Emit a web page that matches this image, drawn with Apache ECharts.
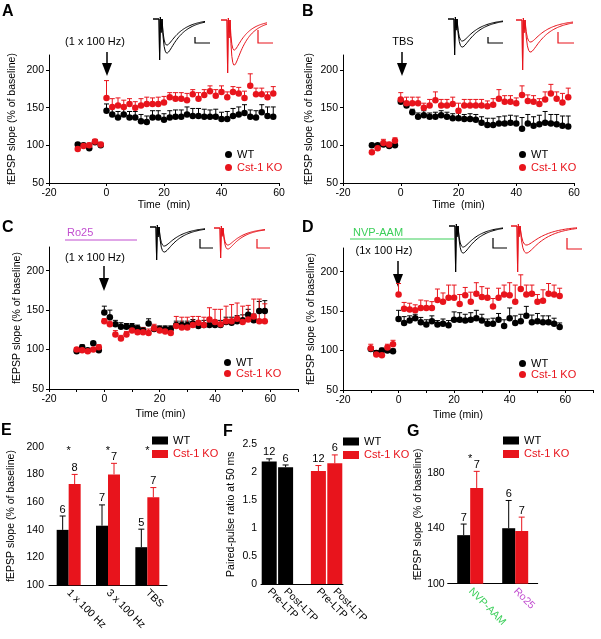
<!DOCTYPE html>
<html>
<head>
<meta charset="utf-8">
<script src="https://cdn.jsdelivr.net/npm/echarts@6/dist/echarts.min.js"></script>
<style>
  html, body { margin: 0; padding: 0; background: #fff; }
  #main { width: 601px; height: 639px; }
</style>
</head>
<body>
<div id="main"></div>
<script>
const RED = '#e8141c'
const BLACK = '#000'
const FONT = 'Liberation Sans, Arial, sans-serif'

// time points (min)
const baseTimes = [-10, -8, -6, -4, -2]
const postTimes = [0, 2, 4, 6, 8, 10, 12, 14, 16, 18, 20, 22, 24, 26, 28, 30, 32, 34, 36, 38, 40, 42, 44, 46, 48, 50, 52, 54, 56, 58]

// A: 1 x 100 Hz
const aWtBase = [101, 100, 96, 104, 100]
const aWtBaseErr = [2, 2, 2, 3, 2]
const aKoBase = [95, 99, 100, 105, 101]
const aKoBaseErr = [3, 2, 3, 3, 3]
const aWt = [146, 141, 137, 141, 137, 137, 132, 131, 137, 137, 134, 137, 138, 138, 141, 139, 139, 138, 138, 138, 135, 135, 139, 141, 143, 138, 137, 144, 139, 138]
const aWtErr = [9, 8, 8, 8, 8, 8, 9, 8, 9, 9, 8, 9, 9, 9, 10, 10, 10, 10, 9, 10, 9, 10, 10, 10, 11, 9, 9, 10, 12, 13]
const aKo = [163, 151, 153, 151, 155, 150, 153, 155, 155, 155, 157, 164, 162, 162, 160, 168, 162, 167, 172, 166, 171, 164, 171, 169, 163, 179, 168, 168, 164, 169]
const aKoErr = [23, 11, 10, 9, 7, 8, 9, 9, 8, 9, 8, 6, 8, 8, 9, 6, 8, 7, 7, 8, 8, 7, 7, 8, 9, 16, 8, 8, 7, 9]

// B: TBS
const bWtBase = [100, 100, 101, 99, 100]
const bWtBaseErr = [2, 2, 2, 2, 2]
const bKoBase = [91, 96, 103, 101, 106]
const bKoBaseErr = [2, 3, 5, 3, 4]
const bWt = [158, 153, 144, 138, 140, 138, 138, 140, 138, 136, 136, 135, 135, 134, 130, 127, 127, 129, 129, 130, 129, 122, 129, 126, 128, 130, 129, 128, 126, 125]
const bWtErr = [4, 4, 4, 5, 6, 5, 6, 6, 6, 6, 7, 6, 7, 7, 8, 9, 9, 9, 10, 10, 10, 15, 12, 12, 12, 15, 12, 13, 13, 14]
const bKo = [161, 156, 156, 156, 150, 153, 160, 153, 153, 155, 146, 153, 153, 153, 153, 152, 154, 162, 158, 158, 156, 167, 159, 158, 155, 161, 169, 162, 157, 164]
const bKoErr = [9, 8, 8, 8, 6, 8, 11, 8, 8, 9, 10, 8, 8, 8, 8, 7, 8, 12, 8, 8, 7, 12, 8, 8, 7, 10, 12, 9, 12, 12]

// C: Ro25
const cWtBase = [98, 103, 99, 108, 99]
const cWtBaseErr = [2, 3, 2, 2, 2]
const cKoBase = [100, 99, 98, 100, 103]
const cKoBaseErr = [2, 2, 2, 2, 3]
const cWt = [147, 141, 132, 129, 129, 129, 127, 124, 133, 126, 126, 126, 126, 131, 131, 131, 133, 130, 131, 131, 131, 131, 135, 134, 136, 137, 144, 137, 149, 149]
const cWtErr = [8, 9, 5, 5, 4, 4, 4, 4, 6, 4, 4, 4, 4, 5, 5, 5, 5, 5, 6, 6, 6, 6, 6, 7, 7, 7, 7, 8, 12, 13]
const cKo = [136, 132, 119, 114, 119, 124, 122, 122, 121, 127, 124, 123, 121, 130, 128, 128, 131, 134, 131, 138, 135, 132, 136, 136, 139, 135, 138, 142, 136, 136]
const cKoErr = [3, 4, 5, 4, 4, 4, 4, 6, 5, 5, 5, 5, 5, 12, 13, 13, 11, 8, 10, 15, 16, 19, 19, 21, 20, 20, 18, 22, 28, 22]

// D: NVP-AAM
const dWtBase = [102, 97, 100, 100, 99]
const dWtBaseErr = [3, 3, 3, 3, 3]
const dKoBase = [103, 95, 94, 104, 108]
const dKoBaseErr = [5, 2, 2, 4, 5]
const dWt = [140, 135, 138, 141, 136, 133, 137, 133, 134, 132, 139, 139, 138, 139, 141, 138, 134, 134, 139, 131, 141, 135, 137, 144, 136, 137, 136, 136, 134, 130]
const dWtErr = [11, 8, 6, 5, 6, 6, 7, 5, 6, 6, 10, 9, 8, 9, 10, 8, 6, 7, 8, 8, 13, 9, 9, 12, 9, 10, 8, 8, 7, 5]
const dKo = [171, 153, 152, 151, 154, 154, 154, 164, 162, 167, 167, 159, 170, 162, 172, 168, 167, 156, 167, 171, 170, 162, 178, 171, 172, 162, 163, 172, 171, 169]
const dKoErr = [14, 8, 8, 7, 10, 9, 8, 14, 11, 16, 16, 12, 10, 12, 14, 13, 12, 10, 12, 12, 16, 21, 18, 12, 11, 9, 14, 13, 12, 10]

// E: summary
const eCats = ['1 x 100 Hz', '3 x 100 Hz', 'TBS']
const eWt = [140, 143, 127.5]
const eWtErr = [10, 15, 13]
const eWtN = [6, 7, 5]
const eKo = [173, 180, 163.5]
const eKoErr = [7, 8, 7]
const eKoN = [8, 7, 7]
const eStarIdx = [0, 1, 2]
const eStarVal = [200, 200, 200]

// F: paired-pulse ratio
const fLabels = ['Pre-LTP', 'Post-LTP', '', 'Pre-LTP', 'Post-LTP']
const fWtIdx = [0, 1]
const fWt = [2.19, 2.09]
const fWtErr = [0.05, 0.04]
const fWtN = [12, 6]
const fKoIdx = [3, 4]
const fKo = [2.02, 2.16]
const fKoErr = [0.1, 0.15]
const fKoN = [12, 6]

// G: blockers
const gCats = ['NVP-AAM', 'Ro25']
const gCatColors = ['#3ccf5a', '#c24fd0']
const gWt = [135, 140]
const gWtErr = [8, 20]
const gWtN = [7, 6]
const gKo = [169, 138]
const gKoErr = [12, 10]
const gKoN = [7, 7]
const gStarIdx = [0]
const gStarVal = [193]

const chart = echarts.init(document.getElementById('main'))

function pairs(xs, ys) { return xs.map((x, i) => [x, ys[i]]) }

function ptErrSeries(gi, xs, ys, errs, color) {
  return {
    type: 'custom',
    name: 'err',
    xAxisIndex: gi,
    yAxisIndex: gi,
    data: xs.map((x, i) => [x, ys[i], errs[i]]),
    renderItem: (params, api) => {
      const p = api.coord([api.value(0), api.value(1)])
      const q = api.coord([api.value(0), api.value(1) + api.value(2)])
      const st = { stroke: color, lineWidth: 1 }
      return {
        type: 'group',
        children: [
          { type: 'line', shape: { x1: p[0], y1: p[1], x2: q[0], y2: q[1] }, style: st },
          { type: 'line', shape: { x1: q[0] - 2.5, y1: q[1], x2: q[0] + 2.5, y2: q[1] }, style: st }
        ]
      }
    }
  }
}

function ptSeries(gi, name, xs, ys, color) {
  return {
    type: 'scatter',
    name: name,
    xAxisIndex: gi,
    yAxisIndex: gi,
    symbolSize: 6.5,
    itemStyle: { color: color, opacity: 1 },
    data: pairs(xs, ys)
  }
}

function linePanel(gi, wtB, wtBE, koB, koBE, wt, wtE, ko, koE) {
  const xs = baseTimes.concat(postTimes)
  return [
    ptErrSeries(gi, xs, wtB.concat(wt), wtBE.concat(wtE), BLACK),
    ptSeries(gi, 'WT', xs, wtB.concat(wt), BLACK),
    ptErrSeries(gi, xs, koB.concat(ko), koBE.concat(koE), RED),
    ptSeries(gi, 'Cst-1 KO', xs, koB.concat(ko), RED)
  ]
}

function barErrSeries(gi, idx, vals, errs, ns, dx, color) {
  return {
    type: 'custom',
    name: 'err',
    xAxisIndex: gi,
    yAxisIndex: gi,
    z: 5,
    data: idx.map((c, i) => [c, vals[i], errs[i], ns[i]]),
    renderItem: (params, api) => {
      const p = api.coord([api.value(0), api.value(1)])
      const q = api.coord([api.value(0), api.value(1) + api.value(2)])
      const x = p[0] + dx
      const st = { stroke: color, lineWidth: 1 }
      return {
        type: 'group',
        children: [
          { type: 'line', shape: { x1: x, y1: p[1], x2: x, y2: q[1] }, style: st },
          { type: 'line', shape: { x1: x - 3, y1: q[1], x2: x + 3, y2: q[1] }, style: st },
          { type: 'text', style: { text: String(api.value(3)), x: x, y: q[1] - 1, align: 'center', verticalAlign: 'bottom', font: '11px ' + FONT, fill: '#000' } }
        ]
      }
    }
  }
}

function starSeries(gi, idx, vals) {
  return {
    type: 'custom',
    name: 'star',
    xAxisIndex: gi,
    yAxisIndex: gi,
    data: idx.map((c, i) => [c, vals[i]]),
    renderItem: (params, api) => {
      const p = api.coord([api.value(0), api.value(1)])
      return { type: 'text', style: { text: '*', x: p[0], y: p[1] + 4, align: 'center', verticalAlign: 'middle', font: '11px ' + FONT, fill: '#000' } }
    }
  }
}

function barSeries(gi, name, idx, vals, width, gap, color) {
  return {
    type: 'bar',
    name: name,
    xAxisIndex: gi,
    yAxisIndex: gi,
    barWidth: width,
    barGap: gap,
    itemStyle: { color: color },
    data: pairs(idx, vals)
  }
}

const axisLine = { onZero: false, lineStyle: { color: '#000', width: 1 } }
const tick = { length: 3, lineStyle: { color: '#000' } }
const lbl = { color: '#000', fontSize: 10.5, fontFamily: FONT }

function timeAxis(gi, max, nameGap, namePad) {
  const ax = {
    type: 'value', gridIndex: gi, min: -20, max: max, interval: max === 60 ? 20 : 10,
    axisLine: axisLine, axisTick: tick, splitLine: { show: false },
    axisLabel: Object.assign({ margin: 5 }, lbl),
    name: gi < 2 ? 'Time  (min)' : 'Time (min)', nameLocation: 'middle', nameGap: nameGap,
    nameTextStyle: { color: '#000', fontSize: 10.5, fontFamily: FONT, padding: namePad }
  }
  if (max !== 60) ax.axisLabel.customValues = [-20, 0, 20, 40, 60]
  return ax
}

function slopeAxis(gi, max, nameGap) {
  return {
    type: 'value', gridIndex: gi, min: 50, max: max,
    axisLine: axisLine, splitLine: { show: false },
    axisTick: Object.assign({ customValues: [50, 100, 150, 200] }, tick),
    axisLabel: Object.assign({ margin: 5, customValues: [50, 100, 150, 200] }, lbl),
    name: 'fEPSP slope (% of baseline)', nameLocation: 'middle', nameGap: nameGap,
    nameTextStyle: { color: '#000', fontSize: 10.5, fontFamily: FONT }
  }
}

function catAxis(gi, data, fmt, colorFn) {
  const label = Object.assign({ rotate: -45, margin: 6, interval: 0 }, lbl)
  if (fmt) label.formatter = fmt
  if (colorFn) label.color = colorFn
  return {
    type: 'category', gridIndex: gi, data: data,
    axisLine: axisLine, axisTick: { show: false }, axisLabel: label
  }
}

function legend(left, top, icon, w, h, gap) {
  return {
    left: left, top: top, orient: 'vertical', padding: 0, itemGap: gap,
    itemWidth: w, itemHeight: h, selectedMode: false,
    textStyle: { fontSize: 11, fontFamily: FONT },
    data: [
      { name: 'WT', icon: icon, textStyle: { color: BLACK } },
      { name: 'Cst-1 KO', icon: icon, textStyle: { color: RED } }
    ]
  }
}

// ---- decorations: arrows, drug bars, inset traces, panel letters ----
function txt(x, y, s, opt) {
  return { type: 'text', x: x, y: y, silent: true, style: Object.assign({ text: s, font: '11px ' + FONT, fill: '#000', align: 'center', verticalAlign: 'middle' }, opt || {}) }
}
function arrow(x, y1, y2, y3) {
  return [
    { type: 'line', shape: { x1: x, y1: y1, x2: x, y2: y2 + 1 }, style: { stroke: '#000', lineWidth: 1.5 } },
    { type: 'polygon', shape: { points: [[x - 5, y2], [x + 5, y2], [x, y3]] }, style: { fill: '#000' } }
  ]
}
function hline(x1, x2, y, color) {
  return { type: 'line', shape: { x1: x1, y1: y, x2: x2, y2: y }, style: { stroke: color, lineWidth: 1.2 } }
}
function scaleBar(x, yTop, yBot, len, color) {
  return { type: 'polyline', shape: { points: [[x, yTop], [x, yBot], [x + len, yBot]] }, style: { stroke: color, fill: null, lineWidth: 1.2 } }
}
function trace(x0, y0, w, art, depth, color) {
  const pts = [[x0 - 6, y0], [x0, y0], [x0 + 0.6, y0 + art], [x0 + 1.4, y0 - 2], [x0 + 2.2, y0 + depth * 0.4]]
  let gmax = 0
  for (let i = 0; i <= 40; i++) {
    const s = i / 40
    gmax = Math.max(gmax, Math.exp(-s / 0.35) - Math.exp(-s / 0.05))
  }
  for (let i = 0; i <= 40; i++) {
    const s = i / 40
    const g = (Math.exp(-s / 0.35) - Math.exp(-s / 0.05)) / gmax
    pts.push([x0 + 3 + s * (w - 3), y0 + depth * g])
  }
  return { type: 'polyline', shape: { points: pts }, style: { stroke: color, fill: null, lineWidth: 1 } }
}
const insets = [
  [159, 19, 46, 41, [26, 34], BLACK], [227, 20, 40, 53, [30, 45], RED],
  [454, 19, 49, 36, [22, 28], BLACK], [522, 20, 51, 50, [22, 32], RED],
  [156, 227, 49, 33, [19, 25], BLACK], [220, 228, 45, 30, [17, 21], RED],
  [455, 226, 48, 46, [21, 27], BLACK], [517, 226, 60, 46, [19, 27], RED]
]
const bars = [
  [195, 37, 43, 15, BLACK], [258, 30, 43, 15, RED],
  [488, 37, 43, 15, BLACK], [558, 32, 43, 16, RED],
  [200, 239, 248, 13, BLACK], [257, 239, 248, 13, RED],
  [493, 238, 248, 14, BLACK], [567, 238, 249, 15, RED]
]
const graphics = []
insets.forEach(t => t[4].forEach(d => graphics.push(trace(t[0], t[1], t[2], t[3], d, t[5]))))
bars.forEach(b => graphics.push(scaleBar(b[0], b[1], b[2], b[3], b[4])))
graphics.push(...arrow(107, 52, 63, 76), ...arrow(402, 52, 63, 76), ...arrow(104, 266, 278, 291), ...arrow(398, 261, 274, 287))
graphics.push(
  txt(95, 42, '(1 x 100 Hz)'), txt(403, 42, 'TBS'),
  txt(67, 233, 'Ro25', { fill: '#c24fd0', align: 'left' }), hline(65, 137, 240, '#c24fd0'),
  txt(95, 258, '(1 x 100 Hz)'),
  txt(353, 233, 'NVP-AAM', { fill: '#3ccf5a', align: 'left' }), hline(350, 454, 239, '#3ccf5a'),
  txt(384, 251, '(1x 100 Hz)')
)
const letters = [['A', 2, 12], ['B', 302, 12], ['C', 2, 228], ['D', 302, 228], ['E', 1, 431], ['F', 223, 432], ['G', 407, 432]]
letters.forEach(l => graphics.push(txt(l[1], l[2], l[0], { font: 'bold 16px ' + FONT, align: 'left' })))

const option = {
  animation: false,
  backgroundColor: '#fff',
  textStyle: { fontFamily: FONT },
  grid: [
    { left: 49, top: 55, width: 230, height: 128 },
    { left: 343, top: 55, width: 231, height: 128 },
    { left: 49, top: 247, width: 249, height: 142 },
    { left: 343, top: 248, width: 250, height: 142 },
    { left: 49, top: 446.7, width: 118, height: 138.6 },
    { left: 261, top: 444.3, width: 82, height: 139.7 },
    { left: 447.7, top: 445, width: 90, height: 138.7 }
  ],
  xAxis: [
    timeAxis(0, 60, 15, 0),
    timeAxis(1, 60, 15, 0),
    timeAxis(2, 70, 20, [0, 26, 0, 0]),
    timeAxis(3, 70, 20, [0, 20, 0, 0]),
    catAxis(4, eCats),
    catAxis(5, fLabels.map((l, i) => 'c' + i), (v, i) => fLabels[i]),
    catAxis(6, gCats, null, (v, i) => gCatColors[gCats.indexOf(v)])
  ],
  yAxis: [
    slopeAxis(0, 220, 31),
    slopeAxis(1, 220, 28),
    slopeAxis(2, 230, 23),
    slopeAxis(3, 230, 25),
    {
      type: 'value', gridIndex: 4, min: 100, max: 200, interval: 20,
      axisLine: axisLine, axisTick: tick, splitLine: { show: false },
      axisLabel: Object.assign({ margin: 5 }, lbl),
      name: 'fEPSP slope (% of baseline)', nameLocation: 'middle', nameGap: 32,
      nameTextStyle: { color: '#000', fontSize: 10.5, fontFamily: FONT }
    },
    {
      type: 'value', gridIndex: 5, min: 0, max: 2.5, interval: 0.5,
      axisLine: axisLine, axisTick: tick, splitLine: { show: false },
      axisLabel: Object.assign({ margin: 4 }, lbl),
      name: 'Paired-pulse ratio at 50 ms', nameLocation: 'middle', nameGap: 24,
      nameTextStyle: { color: '#000', fontSize: 10.5, fontFamily: FONT }
    },
    {
      type: 'value', gridIndex: 6, min: 100, max: 200,
      axisLine: axisLine, splitLine: { show: false },
      axisTick: Object.assign({ customValues: [100, 140, 180] }, tick),
      axisLabel: Object.assign({ margin: 3, customValues: [100, 140, 180] }, lbl),
      name: 'fEPSP slope (% of baseline)', nameLocation: 'middle', nameGap: 23,
      nameTextStyle: { color: '#000', fontSize: 10.5, fontFamily: FONT }
    }
  ],
  legend: [
    legend(225, 149, 'circle', 7, 7, 2),
    legend(519, 149, 'circle', 7, 7, 2),
    legend(224, 357, 'circle', 7, 7, 0),
    legend(519, 358, 'circle', 7, 7, 0),
    legend(152, 435, 'rect', 16, 8, 2.5),
    legend(343, 436, 'rect', 16, 8, 2.5),
    legend(503, 435, 'rect', 16, 8, 2.5)
  ],
  graphic: graphics,
  series: [
    ...linePanel(0, aWtBase, aWtBaseErr, aKoBase, aKoBaseErr, aWt, aWtErr, aKo, aKoErr),
    ...linePanel(1, bWtBase, bWtBaseErr, bKoBase, bKoBaseErr, bWt, bWtErr, bKo, bKoErr),
    ...linePanel(2, cWtBase, cWtBaseErr, cKoBase, cKoBaseErr, cWt, cWtErr, cKo, cKoErr),
    ...linePanel(3, dWtBase, dWtBaseErr, dKoBase, dKoBaseErr, dWt, dWtErr, dKo, dKoErr),
    barSeries(4, 'WT', [0, 1, 2], eWt, 12, '0%', BLACK),
    barSeries(4, 'Cst-1 KO', [0, 1, 2], eKo, 12, '0%', RED),
    barErrSeries(4, [0, 1, 2], eWt, eWtErr, eWtN, -6, BLACK),
    barErrSeries(4, [0, 1, 2], eKo, eKoErr, eKoN, 6, RED),
    starSeries(4, eStarIdx, eStarVal),
    barSeries(5, 'WT', fWtIdx, fWt, 15, '-100%', BLACK),
    barSeries(5, 'Cst-1 KO', fKoIdx, fKo, 15, '-100%', RED),
    barErrSeries(5, fWtIdx, fWt, fWtErr, fWtN, 0, BLACK),
    barErrSeries(5, fKoIdx, fKo, fKoErr, fKoN, 0, RED),
    barSeries(6, 'WT', [0, 1], gWt, 13, '0%', BLACK),
    barSeries(6, 'Cst-1 KO', [0, 1], gKo, 13, '0%', RED),
    barErrSeries(6, [0, 1], gWt, gWtErr, gWtN, -6.5, BLACK),
    barErrSeries(6, [0, 1], gKo, gKoErr, gKoN, 6.5, RED),
    starSeries(6, gStarIdx, gStarVal)
  ]
}
chart.setOption(option)
</script>
</body>
</html>
